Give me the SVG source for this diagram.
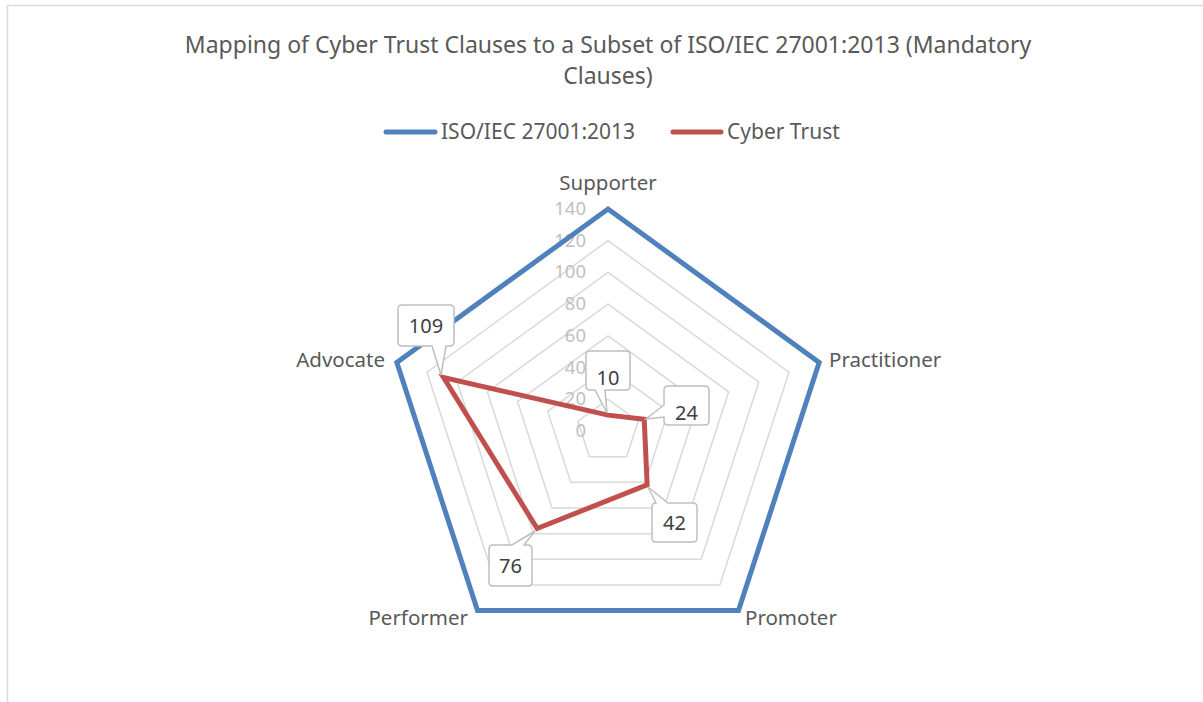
<svg xmlns="http://www.w3.org/2000/svg" width="1203" height="702" viewBox="0 0 1203 702">
<style>
text{font-family:"Noto Sans","Open Sans","Liberation Sans",sans-serif;}
.title{font-size:23px;fill:#595959;text-anchor:middle;}
.leg{font-size:21px;fill:#595959;}
.cat{font-size:20.5px;fill:#595959;}
.tick{font-size:18.5px;fill:#bfbfbf;text-anchor:end;}
.grid{fill:none;stroke:#d9d9d9;stroke-width:1.5;}
.iso{fill:none;stroke:#4f81bd;stroke-width:5;stroke-linejoin:miter;}
.ct{fill:none;stroke:#c0504d;stroke-width:5;stroke-linejoin:miter;}
.call{fill:#fff;stroke:#bfbfbf;stroke-width:1.5;}
.val{font-size:20px;fill:#404040;text-anchor:middle;}
</style>
<rect x="0" y="0" width="1203" height="702" fill="#fff"/>
<path d="M7.5,702 V5.5 H1203" fill="none" stroke="#d9d9d9" stroke-width="1.5"/>
<g id="title">
<text class="title" x="608" y="53">Mapping of Cyber Trust Clauses to a Subset of ISO/IEC 27001:2013 (Mandatory</text>
<text class="title" x="608" y="84">Clauses)</text>
</g>
<g id="legend">
<line x1="386" y1="132" x2="435" y2="132" stroke="#4f81bd" stroke-width="5" stroke-linecap="round"/>
<text class="leg" x="441" y="139">ISO/IEC 27001:2013</text>
<line x1="673" y1="132" x2="721" y2="132" stroke="#c0504d" stroke-width="5" stroke-linecap="round"/>
<text class="leg" x="727" y="139">Cyber Trust</text>
</g>
<g id="grid">
<polygon class="grid" points="608,399.29 638.16,421.2 626.64,456.66 589.36,456.66 577.84,421.2"/>
<polygon class="grid" points="608,367.57 668.33,411.4 645.28,482.32 570.72,482.32 547.67,411.4"/>
<polygon class="grid" points="608,335.86 698.49,401.6 663.92,507.97 552.08,507.97 517.51,401.6"/>
<polygon class="grid" points="608,304.14 728.66,391.8 682.57,533.63 533.43,533.63 487.34,391.8"/>
<polygon class="grid" points="608,272.43 758.82,382 701.21,559.29 514.79,559.29 457.18,382"/>
<polygon class="grid" points="608,240.71 788.98,372.2 719.85,584.95 496.15,584.95 427.02,372.2"/>
<polygon class="grid" points="608,209 819.14,362.4 738.49,610.6 477.51,610.6 396.86,362.4"/>
</g>
<g id="axis-ticks">
<text class="tick" x="586" y="437">0</text>
<text class="tick" x="586" y="405">20</text>
<text class="tick" x="586" y="374">40</text>
<text class="tick" x="586" y="342">60</text>
<text class="tick" x="586" y="310">80</text>
<text class="tick" x="586" y="278">100</text>
<text class="tick" x="586" y="247">120</text>
<text class="tick" x="586" y="215">140</text>
</g>
<g id="categories">
<text id="cat-supporter" class="cat" x="608" y="190" text-anchor="middle">Supporter</text>
<text id="cat-practitioner" class="cat" x="829" y="367">Practitioner</text>
<text id="cat-promoter" class="cat" x="745" y="625">Promoter</text>
<text id="cat-performer" class="cat" x="468" y="625" text-anchor="end">Performer</text>
<text id="cat-advocate" class="cat" x="385" y="367" text-anchor="end">Advocate</text>
</g>
<g id="series">
<polygon id="series-iso" class="iso" points="608,209 819.14,362.4 738.49,610.6 477.51,610.6 396.86,362.4"/>
<polygon id="series-cybertrust" class="ct" points="608,415.14 644.2,419.24 647.15,484.88 537.16,528.5 443.61,377.59"/>
</g>
<g id="label-10">
<path class="call" d="M590,351 H626 Q630,351 630,355 V386 Q630,390 626,390 H605 L607,413 L595,390 H590 Q586,390 586,386 V355 Q586,351 590,351 Z"/>
<text class="val" x="608" y="385">10</text>
</g>
<g id="label-24">
<path class="call" d="M668,386 H705 Q709,386 709,390 V421 Q709,425 705,425 H668 Q664,425 664,421 V417 L646,419 L664,405 V390 Q664,386 668,386 Z"/>
<text class="val" x="686.5" y="420">24</text>
</g>
<g id="label-42">
<path class="call" d="M656,503 L648,487 L668,503 H693 Q697,503 697,507 V538 Q697,542 693,542 H656 Q652,542 652,538 V507 Q652,503 656,503 Z"/>
<text class="val" x="674.5" y="530">42</text>
</g>
<g id="label-76">
<path class="call" d="M493,545 H512 L535,531 L524,545 H528 Q532,545 532,549 V582 Q532,586 528,586 H493 Q489,586 489,582 V549 Q489,545 493,545 Z"/>
<text class="val" x="510.5" y="573">76</text>
</g>
<g id="label-109">
<path class="call" d="M402,305 H450 Q454,305 454,309 V342 Q454,346 450,346 H446 L441,375 L432,346 H402 Q398,346 398,342 V309 Q398,305 402,305 Z"/>
<text class="val" x="426" y="333">109</text>
</g>
</svg>
